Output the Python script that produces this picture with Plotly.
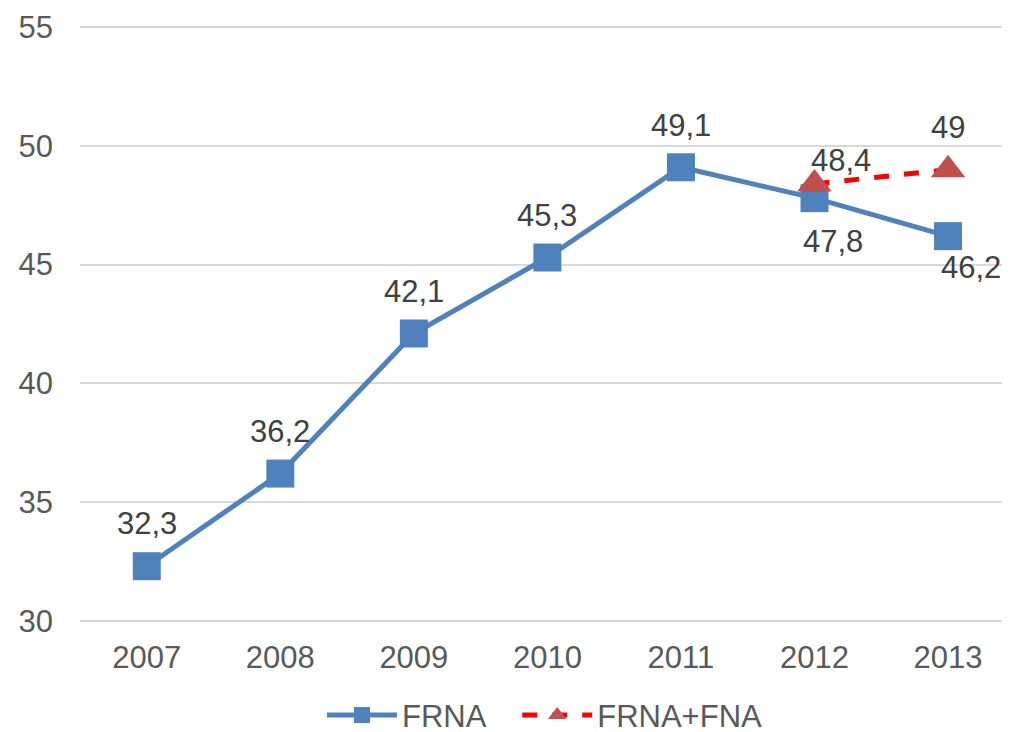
import plotly.graph_objects as go

# Data
years = ["2007", "2008", "2009", "2010", "2011", "2012", "2013"]
frna = [32.3, 36.2, 42.1, 45.3, 49.1, 47.8, 46.2]
frna_fna_years = ["2012", "2013"]
frna_fna = [48.4, 49]

FONT = "Liberation Sans, Arial, sans-serif"
FS = 31


def fmt(v):
    # comma decimal separator, like the source
    s = f"{v:g}"
    return s.replace(".", ",")


fig = go.Figure()

fig.add_trace(go.Scatter(
    x=years, y=frna, name="FRNA\u00a0\u00a0\u00a0", mode="lines+markers",
    line=dict(color="#4F81BD", width=5),
    marker=dict(symbol="square", size=28, color="#4F81BD"),
))
fig.add_trace(go.Scatter(
    x=frna_fna_years, y=frna_fna, name="FRNA+FNA", mode="lines+markers",
    line=dict(color="#FF0000", width=5, dash="dash"),
    marker=dict(symbol="triangle-up", size=30, color="#C0504D"),
))

# Data labels (category axis -> use category index for annotation x)
frna_shift = [(0, 43), (0, 42), (0, 42), (0, 42), (0, 42), (19, -43), (23, -31)]
for yr, v, (dx, dy) in zip(years, frna, frna_shift):
    fig.add_annotation(x=years.index(yr), y=v, text=fmt(v), showarrow=False,
                       xshift=dx, yshift=dy,
                       font=dict(family=FONT, size=FS, color="#404040"))
for yr, v, (dx, dy) in zip(frna_fna_years, frna_fna, [(27, 23), (0, 42)]):
    fig.add_annotation(x=years.index(yr), y=v, text=fmt(v), showarrow=False,
                       xshift=dx, yshift=dy,
                       font=dict(family=FONT, size=FS, color="#404040"))

# page body adds an 8px margin, so the figure is shifted by 8px
fig.update_layout(
    width=1002, height=724,
    margin=dict(l=72, r=0, t=18, b=110),
    plot_bgcolor="white", paper_bgcolor="white",
    font=dict(family=FONT, size=FS, color="#595959"),
    showlegend=True,
    legend=dict(orientation="h", x=0.5, xanchor="center",
                yref="container", y=0.023, yanchor="middle",
                font=dict(size=FS, color="#595959"),
                itemwidth=70, traceorder="normal"),
)
fig.update_xaxes(type="category", range=[-0.5, 6.464], showgrid=False,
                 showline=False, ticks="", ticklabelstandoff=14, automargin=False)
fig.update_yaxes(range=[29.95, 55.05], dtick=5, tick0=30, showgrid=True,
                 gridcolor="#D9D9D9", gridwidth=2, zeroline=False, showline=False,
                 ticklabelstandoff=26, automargin=False)

fig.write_html("out.html")
